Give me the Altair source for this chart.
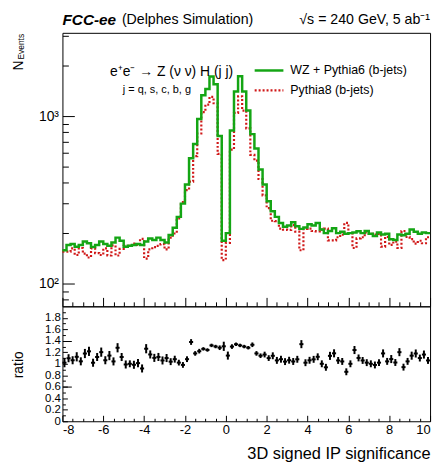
import altair as alt
import pandas as pd

# Histogram binning: 90 bins of width 0.2 on [-8, 10]
X_MIN, X_MAX, BIN_W = -8.0, 10.0, 0.2

# Events per bin, WZ + Pythia6 (b-jets)
wz_pythia6 = [158, 170, 172, 166, 170, 178, 174, 165, 170, 178,
              172, 168, 176, 188, 180, 166, 168, 170, 172, 170,
              178, 186, 182, 188, 182, 176, 195, 215, 250, 300,
              390, 560, 680, 960, 1330, 1450, 1720, 1550, 760, 180,
              200, 820, 1400, 1730, 1400, 1080, 780, 640, 480, 390,
              310, 270, 250, 230, 218, 222, 232, 220, 212, 216,
              226, 222, 230, 210, 200, 206, 214, 200, 204, 198,
              200, 202, 205, 200, 206, 198, 192, 202, 196, 198,
              184, 182, 196, 194, 198, 210, 204, 198, 202, 200]

# Events per bin, Pythia8 (b-jets)
pythia8 = [155, 155, 162, 148, 163, 151, 143, 162, 152, 148,
           162, 147, 169, 147, 161, 168, 168, 173, 170, 185,
           141, 160, 165, 168, 172, 160, 188, 199, 245, 306,
           361, 406, 576, 787, 1056, 1169, 1303, 1192, 594, 138,
           175, 631, 1045, 1311, 1077, 844, 586, 542, 421, 336,
           282, 237, 236, 213, 210, 209, 223, 204, 158, 212,
           213, 206, 205, 210, 213, 181, 181, 189, 196, 230,
           200, 163, 186, 189, 202, 198, 196, 198, 166, 190,
           170, 178, 163, 206, 190, 184, 173, 180, 174, 189]

# Uncertainty on the ratio in each bin
ratio_err = [0.08, 0.07, 0.07, 0.08, 0.07, 0.08, 0.08, 0.07, 0.07, 0.08,
             0.07, 0.08, 0.07, 0.08, 0.07, 0.07, 0.06, 0.07, 0.07, 0.07,
             0.08, 0.07, 0.07, 0.07, 0.07, 0.07, 0.06, 0.06, 0.05, 0.05,
             0.05, 0.05, 0.04, 0.04, 0.03, 0.03, 0.03, 0.03, 0.04, 0.08,
             0.07, 0.04, 0.03, 0.03, 0.03, 0.03, 0.04, 0.04, 0.04, 0.05,
             0.05, 0.06, 0.06, 0.06, 0.06, 0.06, 0.06, 0.06, 0.07, 0.06,
             0.06, 0.06, 0.06, 0.06, 0.06, 0.07, 0.07, 0.06, 0.06, 0.06,
             0.06, 0.07, 0.06, 0.06, 0.06, 0.06, 0.06, 0.06, 0.07, 0.06,
             0.07, 0.06, 0.07, 0.06, 0.06, 0.07, 0.07, 0.06, 0.07, 0.06]

# Axis ticks
x_major = [-8, -6, -4, -2, 0, 2, 4, 6, 8, 10]
x_minor = [v / 2 for v in range(-16, 21) if v % 4 != 0]
y_top_major = [100, 1000]
y_top_minor = [80, 90, 200, 300, 400, 500, 600, 700, 800, 900, 2000, 3000]
y_ratio_labels = [0, 0.2, 0.4, 0.6, 0.8, 1, 1.2, 1.4, 1.6, 1.8]
y_ratio_minor = [0.1, 0.3, 0.5, 0.7, 0.9, 1.1, 1.3, 1.5, 1.7, 1.9]
y_ratio_long = [0.6, 1.4]

n = len(wz_pythia6)
lo = [round(X_MIN + BIN_W * i, 2) for i in range(n)]
hi = [round(v + BIN_W, 2) for v in lo]
mid = [round(v + BIN_W / 2, 2) for v in lo]
ratio = [g / p for g, p in zip(wz_pythia6, pythia8)]

# step outlines: each value held from its lower edge, closed at the last upper edge
step = pd.DataFrame({
    "x": lo + [X_MAX],
    "wz": wz_pythia6 + [wz_pythia6[-1]],
    "p8": pythia8 + [pythia8[-1]],
})
ratio_df = pd.DataFrame({
    "lo": lo, "hi": hi, "mid": mid, "r": ratio,
    "rlo": [r - e for r, e in zip(ratio, ratio_err)],
    "rhi": [r + e for r, e in zip(ratio, ratio_err)],
})
one = pd.DataFrame({"k": [0]})

FONT = "Liberation Sans"
GREEN = "#14a514"
RED = "#d01818"
W, TOP_H, BOT_H = 371, 276, 116

x_scale = alt.Scale(domain=[X_MIN, X_MAX], nice=False, zero=False)
y_top_scale = alt.Scale(type="log", domain=[73.1, 3140], nice=False)
y_ratio_scale = alt.Scale(domain=[0, 2], nice=False, zero=False)


def inner_axis(orient, values, size, **kw):
    # ticks drawn inward from the frame edge
    opts = dict(orient=orient, values=values, tickSize=size, offset=-size,
                domain=False, grid=False, tickColor="black", tickWidth=1,
                labelColor="black", labelFont=FONT, labelOverlap=False,
                title=None)
    if "labels" not in kw:
        opts["labels"] = False
    opts.update(kw)
    return alt.Axis(**opts)


def text(t, x, y, size, **kw):
    opts = dict(text=t, fontSize=size, font=FONT, color="black",
                align="left", baseline="middle")
    opts.update(kw)
    return alt.Chart(one).mark_text(**opts).encode(x=alt.value(x), y=alt.value(y))


def seg(x1, x2, y, color, width, dash=None):
    opts = dict(color=color, strokeWidth=width)
    if dash:
        opts["strokeDash"] = dash
    return alt.Chart(one).mark_rule(**opts).encode(
        x=alt.value(x1), x2=alt.value(x2), y=alt.value(y))


green_line = alt.Chart(step).mark_line(
    interpolate="step-after", color=GREEN, strokeWidth=2.5
).encode(
    x=alt.X("x:Q", scale=x_scale, axis=inner_axis("bottom", x_major, 9)),
    y=alt.Y("wz:Q", scale=y_top_scale,
            axis=inner_axis("left", y_top_major, 12, labels=True, labelFontSize=14,
                            labelPadding=4,
                            labelExpr="datum.value == 100 ? '10²' : '10³'")),
)
red_line = alt.Chart(step).mark_line(
    interpolate="step-after", color=RED, strokeWidth=2.2, strokeDash=[2, 2]
).encode(
    x=alt.X("x:Q", scale=x_scale, axis=inner_axis("bottom", x_minor, 4.5)),
    y=alt.Y("p8:Q", scale=y_top_scale, axis=inner_axis("left", y_top_minor, 6)),
)

# anchor the chart's top-left corner of the page
corner = alt.Chart(one).mark_rule(opacity=0, strokeWidth=0.5).encode(
    x=alt.value(-62), x2=alt.value(-61), y=alt.value(-30))

top = alt.layer(
    corner,
    red_line,
    green_line,
    text("FCC-ee", 0, -13, 15.5, fontWeight="bold", fontStyle="italic"),
    text("(Delphes Simulation)", 60, -13, 14.3),
    text("√s = 240 GeV, 5 ab⁻¹", 371, -13, 14.3, align="right"),
    text("e⁺e⁻ → Z (ν ν) H (j j)", 48, 40, 14),
    text("j = q, s, c, b, g", 61, 58, 11),
    seg(194, 223, 38, GREEN, 2.5),
    text("WZ + Pythia6 (b-jets)", 230, 38, 12.5),
    seg(194, 223, 58, RED, 2.2, [2, 2]),
    text("Pythia8 (b-jets)", 230, 58, 12.5),
    text("N", -44, 38, 14, angle=270),
    text("Events", -42, 27, 8.5, angle=270),
).resolve_axis(x="independent", y="independent").properties(width=W, height=TOP_H)

ratio_h = alt.Chart(ratio_df).mark_rule(color="black", strokeWidth=2).encode(
    x=alt.X("lo:Q", scale=x_scale,
            axis=inner_axis("bottom", x_major, 6, labels=True, labelFontSize=13,
                            labelPadding=2, labelExpr="'' + datum.value",
                            title="3D signed IP significance", titleFont=FONT,
                            titleFontSize=16.5, titleFontWeight="normal",
                            titleColor="black", titleAnchor="end", titlePadding=10)),
    x2="hi:Q",
    y=alt.Y("r:Q", scale=y_ratio_scale,
            axis=inner_axis("left", y_ratio_labels, 5, labels=True, labelFontSize=11.5,
                            labelPadding=2, labelExpr="format(datum.value, '~g')")),
)
ratio_v = alt.Chart(ratio_df).mark_rule(color="black", strokeWidth=2).encode(
    x=alt.X("mid:Q", scale=x_scale, axis=inner_axis("bottom", x_minor, 3)),
    y=alt.Y("rlo:Q", scale=y_ratio_scale, axis=inner_axis("left", y_ratio_minor, 3)),
    y2="rhi:Q",
)
ratio_ticks = alt.Chart(ratio_df).mark_rule(opacity=0).encode(
    x=alt.X("mid:Q", scale=x_scale, axis=None),
    y=alt.Y("r:Q", scale=y_ratio_scale, axis=inner_axis("left", y_ratio_long, 9)),
)

bottom = alt.layer(
    ratio_ticks,
    ratio_v,
    ratio_h,
    text("ratio", -44, 59, 14, angle=270, align="center"),
).resolve_axis(x="independent", y="independent").properties(width=W, height=BOT_H)

chart = alt.vconcat(top, bottom, spacing=0, bounds="flush").properties(
    padding=0, background="white"
).configure_view(stroke="black", strokeWidth=1)

chart.save("out.html", embed_options={"renderer": "svg", "actions": False})
